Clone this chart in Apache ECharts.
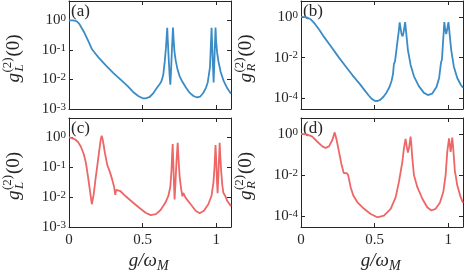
<!DOCTYPE html>
<html><head><meta charset="utf-8">
<script src="https://cdn.jsdelivr.net/npm/echarts@6/dist/echarts.min.js"></script>
<style>html,body{margin:0;padding:0;background:#fff}#c{width:464px;height:275px}</style>
</head><body><div id="c"></div>
<script>
// ---- data ----
const xTickLabels = [0, 0.5, 1];
const yTicksAC = [1e-3, 1e-2, 1e-1, 1];
const yTicksBD = [1e-4, 1e-2, 1];
const panelLabels = ['(a)', '(b)', '(c)', '(d)'];
const subLetters = ['L', 'R', 'L', 'R'];

const aX = [0,0.02,0.04,0.055,0.07,0.085,0.1,0.12,0.14,0.155,0.18,0.2,0.25,0.3,0.36,0.4,0.44,0.47,0.5,0.52,0.545,0.57,0.595,0.615,0.627,0.632,0.64,0.65,0.658,0.664,0.667,0.671,0.677,0.683,0.688,0.693,0.698,0.702,0.706,0.71,0.716,0.724,0.735,0.75,0.77,0.795,0.82,0.845,0.87,0.89,0.91,0.93,0.942,0.947,0.951,0.957,0.962,0.968,0.972,0.977,0.982,0.986,0.99,0.995,0.999,1.006,1.015,1.03,1.05,1.075,1.1];
const aY = [1.0,1.0,0.98,0.91,0.76,0.56,0.42,0.26,0.16,0.107,0.074,0.056,0.030,0.0166,0.0089,0.0058,0.0036,0.00275,0.0023,0.0023,0.0025,0.0033,0.0050,0.0069,0.0085,0.0079,0.0141,0.040,0.112,0.32,0.56,0.20,0.050,0.0141,0.0066,0.020,0.079,0.22,0.57,0.24,0.089,0.045,0.024,0.0132,0.0083,0.0052,0.0035,0.00275,0.00245,0.0026,0.0034,0.0052,0.0079,0.0089,0.0083,0.025,0.100,0.56,0.158,0.032,0.0079,0.028,0.112,0.57,0.20,0.079,0.040,0.0178,0.0089,0.0050,0.0033];

const bX = [0,0.025,0.045,0.065,0.085,0.1,0.125,0.15,0.2,0.258,0.3,0.35,0.4,0.43,0.46,0.48,0.5,0.52,0.54,0.56,0.58,0.6,0.615,0.625,0.631,0.638,0.645,0.655,0.664,0.67,0.676,0.683,0.69,0.697,0.703,0.707,0.712,0.718,0.726,0.744,0.767,0.8,0.835,0.862,0.89,0.92,0.938,0.947,0.952,0.957,0.963,0.969,0.973,0.978,0.986,0.993,1.001,1.006,1.012,1.02,1.038,1.061,1.084,1.1];
const bY = [1.0,0.98,0.91,0.76,0.55,0.40,0.224,0.120,0.038,0.0100,0.0040,0.00135,5.0e-4,2.6e-4,1.38e-4,9.5e-5,7.6e-5,7.4e-5,8.7e-5,1.2e-4,1.9e-4,3.5e-4,7.1e-4,1.6e-3,5.0e-3,6.3e-3,0.0158,0.063,0.20,0.54,0.28,0.141,0.112,0.178,0.35,0.55,0.25,0.089,0.0234,4.5e-3,1.2e-3,4.0e-4,1.86e-4,1.45e-4,1.7e-4,3.6e-4,1.0e-3,3.5e-3,6.3e-3,7.9e-3,0.040,0.178,0.55,0.28,0.141,0.25,0.55,0.25,0.089,0.0234,3.6e-3,1.0e-3,4.8e-4,3.3e-4];

const cX = [0,0.02,0.04,0.06,0.08,0.1,0.115,0.13,0.145,0.155,0.16,0.168,0.18,0.192,0.205,0.215,0.222,0.228,0.235,0.244,0.26,0.278,0.294,0.307,0.314,0.32,0.333,0.35,0.385,0.43,0.475,0.52,0.555,0.59,0.622,0.655,0.675,0.688,0.696,0.7,0.704,0.708,0.713,0.717,0.723,0.73,0.738,0.744,0.751,0.762,0.77,0.776,0.792,0.826,0.86,0.887,0.916,0.946,0.968,0.981,0.988,0.995,1.0,1.005,1.009,1.014,1.019,1.023,1.027,1.033,1.041,1.048,1.052,1.06,1.075,1.1];
const cY = [1.0,0.95,0.87,0.72,0.50,0.28,0.141,0.045,0.0132,0.0058,0.0056,0.0126,0.040,0.112,0.35,0.83,1.15,0.89,0.56,0.30,0.120,0.069,0.038,0.021,0.012,0.0174,0.0195,0.0158,0.0107,0.0069,0.0045,0.0030,0.0025,0.0027,0.0037,0.0066,0.0112,0.0224,0.079,0.25,0.60,0.158,0.025,0.0083,0.032,0.158,0.66,0.178,0.050,0.0182,0.0107,0.0138,0.0095,0.0058,0.0035,0.0029,0.0035,0.0058,0.0112,0.032,0.100,0.56,0.158,0.032,0.0135,0.050,0.20,0.66,0.25,0.079,0.025,0.0141,0.0158,0.0112,0.0074,0.0050];

const dX = [0,0.043,0.077,0.111,0.145,0.167,0.19,0.213,0.229,0.242,0.258,0.274,0.29,0.3,0.31,0.32,0.337,0.355,0.382,0.428,0.473,0.518,0.563,0.609,0.643,0.665,0.688,0.699,0.71,0.718,0.726,0.735,0.744,0.749,0.755,0.762,0.767,0.774,0.79,0.824,0.857,0.885,0.914,0.943,0.966,0.982,0.993,1.005,1.011,1.016,1.022,1.027,1.032,1.038,1.045,1.05,1.061,1.084,1.1];
const dY = [1.0,0.95,0.74,0.42,0.25,0.21,0.25,0.51,1.2,0.51,0.135,0.036,0.0126,0.0107,0.0126,0.0100,2.6e-3,1.02e-3,4.9e-4,2.3e-4,1.29e-4,8.9e-5,1.07e-4,2.3e-4,8.5e-4,4.7e-3,0.044,0.20,0.58,0.25,0.126,0.25,0.74,0.32,0.079,0.0224,0.0100,8.1e-3,2.6e-3,7.1e-4,2.75e-4,1.9e-4,2.3e-4,4.5e-4,1.5e-3,0.0100,0.135,0.62,0.28,0.135,0.28,0.66,0.28,0.078,0.0145,0.0100,3.2e-3,8.5e-4,4.5e-4];

// ---- styling / layout ----
const FONT = 'Liberation Serif';
const AX = '#262626';
const BLUE = '#3B8CC6';
const RED = '#EE6666';
const grids = [
  {left: 69, top: 1, width: 162, height: 108},
  {left: 301, top: 1, width: 162, height: 108},
  {left: 69, top: 118, width: 162, height: 109},
  {left: 301, top: 118, width: 162, height: 109}
];
const yRange = [
  {base: 10, min: 1e-3, max: 4.5, ticks: yTicksAC},
  {base: 100, min: 3e-5, max: 6, ticks: yTicksBD},
  {base: 10, min: 1e-3, max: 4.5, ticks: yTicksAC},
  {base: 100, min: 3e-5, max: 6, ticks: yTicksBD}
];
const seriesData = [[aX, aY, BLUE], [bX, bY, BLUE], [cX, cY, RED], [dX, dY, RED]];

function xLabelFmt(v) {
  for (const t of xTickLabels) if (Math.abs(v - t) < 1e-6) return String(t);
  return '';
}
function yLabelFmt(v) {
  const e = Math.log10(v);
  const r = Math.round(e);
  if (Math.abs(e - r) > 0.02) return '';
  return '{b|10}{s|' + (r < 0 ? '-' + (-r) : r) + '}';
}

const xAxes = [], yAxes = [], series = [];
grids.forEach((g, i) => {
  const bottomRow = i >= 2;
  ['bottom', 'top'].forEach((pos, k) => {
    xAxes.push({
      type: 'value', gridIndex: i, position: pos, min: 0, max: 1.1, interval: 0.5,
      axisLine: {show: true, onZero: false, lineStyle: {color: AX, width: 1}},
      axisTick: {show: true, inside: true, length: 4, lineStyle: {color: AX, width: 1}},
      splitLine: {show: false},
      axisLabel: {show: bottomRow && k === 0, margin: 6, fontFamily: FONT, fontSize: 15, color: AX,
        formatter: xLabelFmt, showMaxLabel: false}
    });
  });
  const yr = yRange[i];
  ['left', 'right'].forEach((pos, k) => {
    yAxes.push({
      type: 'log', logBase: yr.base, gridIndex: i, position: pos, min: yr.min, max: yr.max,
      axisLine: {show: true, onZero: false, lineStyle: {color: AX, width: 1}},
      axisTick: {show: true, inside: true, length: 4, lineStyle: {color: AX, width: 1}},
      splitLine: {show: false}, minorTick: {show: false},
      axisLabel: {show: k === 0, margin: 3, color: AX, fontFamily: FONT, formatter: yLabelFmt,
        rich: {
          b: {fontFamily: FONT, fontSize: 15, color: AX, verticalAlign: 'bottom', lineHeight: 15},
          s: {fontFamily: FONT, fontSize: 11, color: AX, verticalAlign: 'top', lineHeight: 11, padding: [0, 0, 7, 0]}
        }}
    });
  });
  const sd = seriesData[i];
  series.push({
    type: 'line', xAxisIndex: i * 2, yAxisIndex: i * 2, showSymbol: false, symbol: 'none',
    data: sd[0].map((x, j) => [x, sd[1][j]]),
    lineStyle: {color: sd[2], width: 1.8}, itemStyle: {color: sd[2]}, clip: true
  });
});

// ---- text graphics ----
function yName(cx, cy, sub) {
  const base = {fill: AX, fontFamily: FONT, verticalAlign: 'middle', textVerticalAlign: 'middle', align: 'left', textAlign: 'left'};
  return {
    type: 'group', x: cx, y: cy, rotation: Math.PI / 2,
    children: [
      {type: 'text', x: -26, y: 0, style: Object.assign({}, base, {text: 'g', fontSize: 19, fontStyle: 'italic'})},
      {type: 'text', x: -16, y: -6, style: Object.assign({}, base, {text: '(2)', fontSize: 13})},
      {type: 'text', x: -15, y: 6, style: Object.assign({}, base, {text: sub, fontSize: 13, fontStyle: 'italic'})},
      {type: 'text', x: 0, y: 0, style: Object.assign({}, base, {text: '(0)', fontSize: 19})}
    ]
  };
}
function xName(jx, cy) {
  return {
    type: 'group', x: jx, y: cy,
    children: [
      {type: 'text', x: 0, y: 0, style: {text: 'g/ω', fill: AX, fontFamily: FONT, fontSize: 19, fontStyle: 'italic',
        align: 'right', textAlign: 'right', verticalAlign: 'middle', textVerticalAlign: 'middle'}},
      {type: 'text', x: 0, y: 5, style: {text: 'M', fill: AX, fontFamily: FONT, fontSize: 14, fontStyle: 'italic',
        align: 'left', textAlign: 'left', verticalAlign: 'middle', textVerticalAlign: 'middle'}}
    ]
  };
}
const graphics = [];
grids.forEach((g, i) => {
  graphics.push({type: 'text', x: g.left + 2, y: g.top + 2,
    style: {text: panelLabels[i], fill: AX, fontFamily: FONT, fontSize: 17, align: 'left', textAlign: 'left', verticalAlign: 'top', textVerticalAlign: 'top'}});
  graphics.push(yName(g.left - 55, g.top + g.height / 2 + 1.5, subLetters[i]));
});
graphics.push(xName(157, 261));
graphics.push(xName(389, 261));

const chart = echarts.init(document.getElementById('c'), null, {renderer: 'canvas'});
chart.setOption({
  animation: false,
  backgroundColor: '#fff',
  grid: grids.map(g => Object.assign({outerBoundsMode: 'none', containLabel: false}, g)),
  xAxis: xAxes,
  yAxis: yAxes,
  series: series,
  graphic: graphics
});
</script>
</body></html>
